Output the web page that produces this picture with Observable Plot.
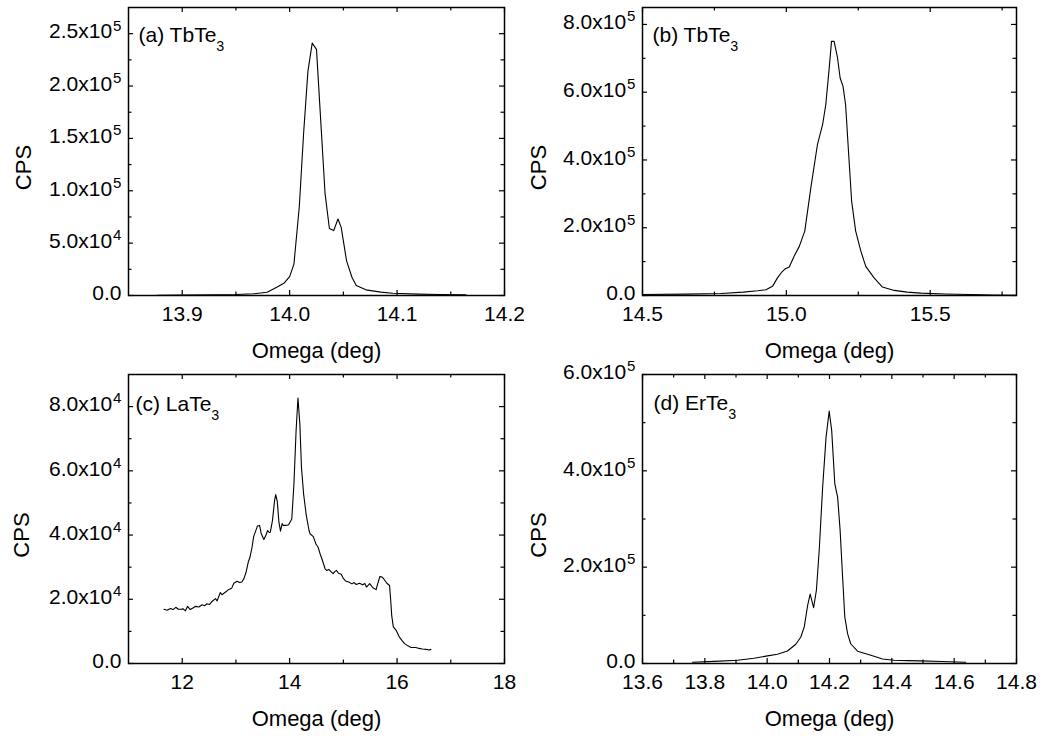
<!DOCTYPE html>
<html>
<head>
<meta charset="utf-8">
<script src="https://cdn.jsdelivr.net/npm/d3@7"></script>
<script src="https://cdn.jsdelivr.net/npm/@observablehq/plot@0.6"></script>
<style>
  html, body { margin: 0; padding: 0; background: white; }
  #grid { width: 1048px; height: 736px; display: grid; grid-template-columns: 524px 524px; grid-template-rows: 368px 368px; }
  #grid svg { display: block; overflow: visible; }
</style>
</head>
<body>
<div id="grid"></div>
<script>
// ---------------- data ----------------
// (a) TbTe3
const aOmega = [13.877, 13.90, 13.93, 13.95, 13.966, 13.979, 13.988, 13.995, 14.000, 14.004, 14.009, 14.013, 14.017, 14.021, 14.025, 14.028, 14.033, 14.037, 14.041, 14.045, 14.048, 14.053, 14.058, 14.062, 14.071, 14.085, 14.096, 14.12, 14.14, 14.164];
const aCPS   = [300, 400, 600, 900, 1600, 3100, 7900, 12000, 18000, 30000, 85000, 155000, 214000, 241000, 235000, 183000, 97000, 64000, 62000, 73000, 65000, 33000, 17400, 9500, 5400, 3200, 2200, 1300, 900, 700];

// (b) TbTe3
const bOmega = [14.50, 14.65, 14.772, 14.85, 14.90, 14.929, 14.952, 14.969, 14.985, 14.995, 15.010, 15.027, 15.045, 15.064, 15.085, 15.108, 15.126, 15.137, 15.149, 15.157, 15.166, 15.178, 15.187, 15.197, 15.206, 15.216, 15.227, 15.241, 15.259, 15.276, 15.305, 15.334, 15.375, 15.42, 15.468, 15.55, 15.641, 15.72, 15.80];
const bCPS   = [3000, 4000, 6000, 10000, 14000, 17000, 27000, 52000, 70000, 78000, 84000, 116000, 145000, 190000, 317000, 445000, 504000, 563000, 671000, 750000, 750000, 701000, 642000, 617000, 563000, 426000, 278000, 190000, 131000, 86000, 52000, 25000, 15000, 10000, 7000, 4500, 3000, 1500, 500];

// (c) LaTe3
const cOmega = [11.66, 11.72, 11.78, 11.83, 11.88, 11.93, 11.97, 12.02, 12.06, 12.10, 12.15, 12.20, 12.25, 12.31, 12.37, 12.42, 12.46, 12.51, 12.56, 12.62, 12.65, 12.71, 12.74, 12.77, 12.82, 12.86, 12.92, 12.96, 13.02, 13.07, 13.11, 13.15, 13.19, 13.23, 13.26, 13.30, 13.33, 13.36, 13.40, 13.44, 13.47, 13.52, 13.56, 13.59, 13.62, 13.64, 13.68, 13.72, 13.74, 13.77, 13.80, 13.83, 13.86, 13.88, 13.93, 13.98, 14.04, 14.08, 14.12, 14.155, 14.19, 14.22, 14.26, 14.31, 14.36, 14.38, 14.44, 14.49, 14.53, 14.57, 14.59, 14.62, 14.66, 14.69, 14.73, 14.77, 14.81, 14.84, 14.87, 14.91, 14.96, 15.00, 15.04, 15.10, 15.16, 15.20, 15.24, 15.30, 15.36, 15.40, 15.43, 15.49, 15.55, 15.61, 15.64, 15.68, 15.72, 15.75, 15.81, 15.86, 15.88, 15.90, 15.93, 15.98, 16.04, 16.09, 16.14, 16.20, 16.26, 16.35, 16.41, 16.47, 16.54, 16.60, 16.63];
const cCPS   = [16900, 16600, 17100, 16800, 17500, 16900, 16900, 17000, 16400, 17800, 16800, 17300, 17800, 17600, 18300, 18000, 18600, 18400, 19400, 20200, 19500, 22100, 21400, 21800, 22400, 23000, 23400, 25000, 25600, 25200, 25400, 26500, 28500, 31600, 33000, 36200, 39500, 40900, 42800, 43000, 40500, 38600, 40000, 41400, 40800, 40900, 44500, 50800, 52600, 50500, 44000, 41200, 43600, 43000, 43000, 43200, 45000, 56000, 72500, 82700, 74600, 61100, 52800, 46100, 41500, 40400, 39500, 37200, 36200, 34000, 33100, 31600, 29500, 29000, 29300, 28600, 28000, 28600, 29000, 28100, 27800, 26500, 25700, 25400, 24800, 25200, 24600, 25000, 24500, 24900, 23800, 24900, 23600, 23000, 24900, 27100, 26900, 26400, 25000, 24300, 20000, 15000, 11400, 10400, 8300, 7200, 6200, 5500, 5000, 5000, 4700, 4500, 4400, 4200, 4400];

// (d) ErTe3
const dOmega = [13.76, 13.83, 13.905, 13.958, 14.001, 14.033, 14.065, 14.092, 14.108, 14.119, 14.13, 14.138, 14.149, 14.158, 14.167, 14.178, 14.189, 14.199, 14.207, 14.217, 14.226, 14.234, 14.242, 14.249, 14.258, 14.268, 14.29, 14.322, 14.343, 14.37, 14.407, 14.45, 14.493, 14.56, 14.637];
const dCPS   = [2700, 4500, 6800, 11000, 15800, 19300, 26000, 40000, 55000, 76000, 121000, 144000, 116000, 152000, 235000, 366000, 470000, 524000, 484000, 373000, 346000, 277000, 180000, 97000, 62000, 41000, 25500, 19300, 15000, 9500, 6800, 6000, 5400, 4000, 2700];

// tick values
const aXMajor = [13.9, 14.0, 14.1, 14.2], aXMinor = [13.95, 14.05, 14.15];
const aYMajor = [0, 5e4, 1e5, 1.5e5, 2e5, 2.5e5], aYMinor = [2.5e4, 7.5e4, 1.25e5, 1.75e5, 2.25e5];
const bXMajor = [14.5, 15.0, 15.5], bXMinor = [14.75, 15.25, 15.75];
const bYMajor = [0, 2e5, 4e5, 6e5, 8e5], bYMinor = [1e5, 3e5, 5e5, 7e5];
const cXMajor = [12, 14, 16, 18], cXMinor = [13, 15, 17];
const cYMajor = [0, 2e4, 4e4, 6e4, 8e4], cYMinor = [1e4, 3e4, 5e4, 7e4];
const dXMajor = [13.6, 13.8, 14.0, 14.2, 14.4, 14.6, 14.8], dXMinor = [13.7, 13.9, 14.1, 14.3, 14.5, 14.7];
const dYMajor = [0, 2e5, 4e5, 6e5], dYMinor = [1e5, 3e5, 5e5];

const titles = ["(a) TbTe_3", "(b) TbTe_3", "(c) LaTe_3", "(d) ErTe_3"];
const xTitle = "Omega (deg)";
const yTitle = "CPS";

// ---------------- drawing ----------------
const FONT = "'Liberation Sans', Arial, Helvetica, sans-serif";
const sci = v => {
  if (v === 0) return "0.0";
  const e = Math.floor(Math.log10(v) + 1e-9);
  return (v / Math.pow(10, e)).toFixed(1) + "x10^" + e;
};
const fix1 = v => v.toFixed(1);
const int0 = v => String(v);

function richText(svg) {
  d3.select(svg).selectAll("text").each(function () {
    if (this.children.length) return;
    const t = this.textContent;
    let m = t.match(/^(.*x10)\^(\d+)$/);
    if (m) {
      this.textContent = m[1];
      d3.select(this).append("tspan").attr("dx", "1").attr("dy", "-0.52em").attr("font-size", "0.72em").text(m[2]);
      return;
    }
    m = t.match(/^(.*)_(\d)$/);
    if (m) {
      this.textContent = m[1];
      d3.select(this).append("tspan").attr("dy", "0.6em").attr("font-size", "0.68em").text(m[2]);
    }
  });
}

function panel(o) {
  const W = 524, H = 368;
  const iw = W - o.mL - o.mR, ih = H - o.mT - o.mB;
  const data = o.omega.map((x, i) => ({x, y: o.cps[i]}));
  const MAJ = 5, MIN = 3.5;
  const svg = Plot.plot({
    width: W, height: H,
    marginLeft: o.mL, marginRight: o.mR, marginTop: o.mT, marginBottom: o.mB,
    style: {fontFamily: FONT, fontSize: "21px", color: "black", background: "white", overflow: "visible"},
    x: {domain: o.xDomain},
    y: {domain: o.yDomain},
    marks: [
      Plot.line(data, {x: "x", y: "y", stroke: "black", strokeWidth: 1.1}),
      // inward ticks on all four sides
      Plot.ruleX(o.xMajor, {insetTop: ih - MAJ, stroke: "black", strokeWidth: 1.2}),
      Plot.ruleX(o.xMinor, {insetTop: ih - MIN, stroke: "black", strokeWidth: 1.2}),
      Plot.ruleX(o.xMajor, {insetBottom: ih - MAJ, stroke: "black", strokeWidth: 1.2}),
      Plot.ruleX(o.xMinor, {insetBottom: ih - MIN, stroke: "black", strokeWidth: 1.2}),
      Plot.ruleY(o.yMajor, {insetRight: iw - MAJ, stroke: "black", strokeWidth: 1.2}),
      Plot.ruleY(o.yMinor, {insetRight: iw - MIN, stroke: "black", strokeWidth: 1.2}),
      Plot.ruleY(o.yMajor, {insetLeft: iw - MAJ, stroke: "black", strokeWidth: 1.2}),
      Plot.ruleY(o.yMinor, {insetLeft: iw - MIN, stroke: "black", strokeWidth: 1.2}),
      Plot.frame({stroke: "black", strokeWidth: 1.5}),
      Plot.axisX(o.xMajor, {anchor: "bottom", tickSize: 0, tickPadding: 11, tickFormat: o.xFmt, label: null, fontSize: 21}),
      Plot.axisY(o.yMajor, {anchor: "left", tickSize: 0, tickPadding: 7, dy: -2, tickFormat: sci, label: null, fontSize: 21}),
      Plot.text([xTitle], {frameAnchor: "bottom", dy: 55, textAnchor: "middle", lineAnchor: "middle", fontSize: 22}),
      Plot.text([yTitle], {frameAnchor: "left", dx: o.cpsDx, dy: 16, rotate: -90, textAnchor: "middle", lineAnchor: "middle", fontSize: 22}),
      Plot.text([o.title], {frameAnchor: "top-left", dx: o.titleDx, dy: o.titleDy, textAnchor: "start", lineAnchor: "top", fontSize: 21})
    ]
  });
  richText(svg);
  document.getElementById("grid").appendChild(svg);
  return svg;
}

panel({omega: aOmega, cps: aCPS, xDomain: [13.85, 14.2], yDomain: [0, 2.75e5],
  xMajor: aXMajor, xMinor: aXMinor, yMajor: aYMajor, yMinor: aYMinor, xFmt: fix1,
  title: titles[0], mL: 128, mR: 20, mT: 7, mB: 73, cpsDx: -105, titleDx: 10, titleDy: 20});
panel({omega: bOmega, cps: bCPS, xDomain: [14.5, 15.8], yDomain: [0, 8.5e5],
  xMajor: bXMajor, xMinor: bXMinor, yMajor: bYMajor, yMinor: bYMinor, xFmt: fix1,
  title: titles[1], mL: 118, mR: 32, mT: 7, mB: 73, cpsDx: -104, titleDx: 10, titleDy: 20});
panel({omega: cOmega, cps: cCPS, xDomain: [11, 18], yDomain: [0, 9e4],
  xMajor: cXMajor, xMinor: cXMinor, yMajor: cYMajor, yMinor: cYMinor, xFmt: int0,
  title: titles[2], mL: 128, mR: 20, mT: 6, mB: 73, cpsDx: -107, titleDx: 7, titleDy: 22});
panel({omega: dOmega, cps: dCPS, xDomain: [13.6, 14.8], yDomain: [0, 6e5],
  xMajor: dXMajor, xMinor: dXMinor, yMajor: dYMajor, yMinor: dYMinor, xFmt: fix1,
  title: titles[3], mL: 118, mR: 32, mT: 6, mB: 73, cpsDx: -104, titleDx: 11, titleDy: 21});
</script>
</body>
</html>
